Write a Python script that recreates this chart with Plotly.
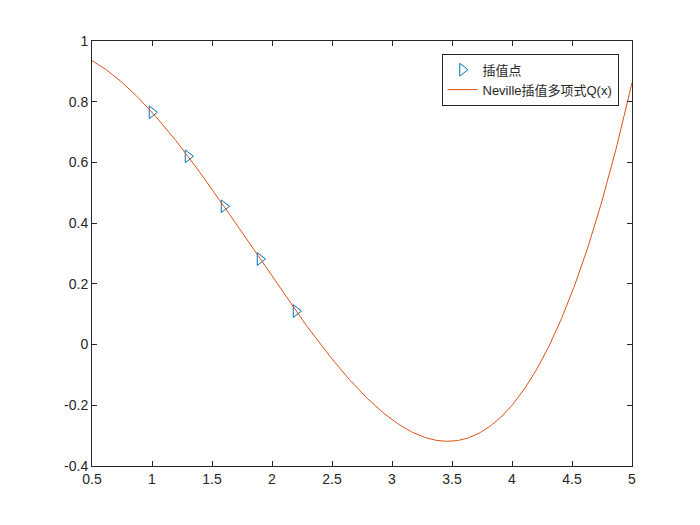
import plotly.graph_objects as go
import numpy as np

# interpolation nodes
x_nodes = [1.0, 1.3, 1.6, 1.9, 2.2]
y_nodes = [0.7652, 0.6201, 0.4554, 0.2818, 0.1104]

def neville(xs, ys, t):
    p = list(ys)
    n = len(xs)
    for k in range(1, n):
        for i in range(n - k):
            p[i] = ((t - xs[i + k]) * p[i] + (xs[i] - t) * p[i + 1]) / (xs[i] - xs[i + k])
    return p[0]

xq = np.linspace(0.5, 5, 400)
yq = [neville(x_nodes, y_nodes, t) for t in xq]

fig = go.Figure()
fig.add_trace(go.Scatter(x=x_nodes, y=y_nodes, mode="markers", name="插值点",
                         marker=dict(symbol="triangle-right-open", size=11, color="#0072BD",
                                     line=dict(width=1, color="#0072BD"))))
fig.add_trace(go.Scatter(x=xq, y=yq, mode="lines", name="Neville插值多项式Q(x)",
                         line=dict(color="#D95319", width=1)))

axis = dict(showgrid=False, zeroline=False, showline=True, linecolor="#262626", linewidth=1,
            mirror="ticks", ticks="inside", ticklen=5, tickcolor="#262626",
            tickfont=dict(size=14, color="#262626"))
fig.update_xaxes(axis, range=[0.5, 5], tickvals=[0.5, 1, 1.5, 2, 2.5, 3, 3.5, 4, 4.5, 5],
                 ticktext=["0.5", "1", "1.5", "2", "2.5", "3", "3.5", "4", "4.5", "5"])
fig.update_yaxes(axis, range=[-0.4, 1], tickvals=[-0.4, -0.2, 0, 0.2, 0.4, 0.6, 0.8, 1],
                 ticktext=["-0.4", "-0.2", "0", "0.2", "0.4", "0.6", "0.8", "1"])
fig.update_layout(width=700, height=525, margin=dict(l=84, r=76, t=33, b=67),
                  paper_bgcolor="white", plot_bgcolor="white",
                  font=dict(family="Liberation Sans, Noto Sans CJK SC", size=13, color="#262626"),
                  legend=dict(x=0.975, y=0.97, xanchor="right", yanchor="top",
                              bordercolor="#262626", borderwidth=1, bgcolor="white",
                              font=dict(size=13), tracegroupgap=0))
fig.write_html("out.html")
